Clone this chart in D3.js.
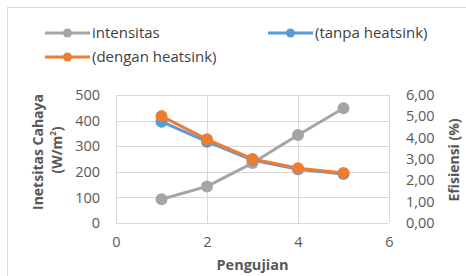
<!DOCTYPE html>
<html>
<head>
<meta charset="utf-8">
<script src="https://cdn.jsdelivr.net/npm/d3@7"></script>
<style>
  body { margin: 0; background: #fff; }
  svg { display: block; font-family: "Open Sans", sans-serif; }
</style>
</head>
<body>
<svg id="chart" width="466" height="276"></svg>
<script>
// pengujian (x) values
const pengujian = [1, 2, 3, 4, 5]
// left axis, W/m2
const intensitas = [93, 143, 234, 344, 448]
// right axis, efisiensi %
const tanpaHeatsink = [4.75, 3.81, 2.95, 2.52, 2.3]
const denganHeatsink = [5.01, 3.92, 3.0, 2.57, 2.34]

const xTicks = [0, 2, 4, 6]
const yLeftTicks = [0, 100, 200, 300, 400, 500]
const yRightTicks = [0, 1, 2, 3, 4, 5, 6]

const svg = d3.select("#chart")

// chart frame
svg.append("rect")
  .attr("x", 7.5).attr("y", 7.5)
  .attr("width", 470).attr("height", 280)
  .attr("fill", "#fff").attr("stroke", "#D9D9D9")

var plot = { left: 116, right: 389, top: 95, bottom: 223 }

var x = d3.scaleLinear().domain([0, 6]).range([plot.left, plot.right])
var yL = d3.scaleLinear().domain([0, 500]).range([plot.bottom, plot.top])
var yR = d3.scaleLinear().domain([0, 6]).range([plot.bottom, plot.top])

// gridlines
var grid = svg.append("g").attr("stroke", "#D9D9D9").attr("stroke-width", 1)
grid.selectAll("line.h").data(yLeftTicks).enter().append("line")
  .attr("x1", plot.left).attr("x2", plot.right)
  .attr("y1", d => Math.round(yL(d)) + 0.5).attr("y2", d => Math.round(yL(d)) + 0.5)
grid.selectAll("line.v").data(xTicks).enter().append("line")
  .attr("y1", plot.top).attr("y2", plot.bottom)
  .attr("x1", d => Math.round(x(d)) + 0.5).attr("x2", d => Math.round(x(d)) + 0.5)

// axes (labels only, Excel style)
var leftAxis = svg.append("g")
  .attr("transform", "translate(" + (plot.left - 16) + ",0)")
  .call(d3.axisLeft(yL).tickValues(yLeftTicks).tickSize(0).tickPadding(0))
var rightAxis = svg.append("g")
  .attr("transform", "translate(" + (plot.right + 17) + ",0)")
  .call(d3.axisRight(yR).tickValues(yRightTicks).tickSize(0).tickPadding(0)
    .tickFormat(d => d3.format(".2f")(d).replace(".", ",")))
var bottomAxis = svg.append("g")
  .attr("transform", "translate(0," + (plot.bottom + 14) + ")")
  .call(d3.axisBottom(x).tickValues(xTicks).tickSize(0).tickPadding(0)
    .tickFormat(d3.format("d")))

;[leftAxis, rightAxis, bottomAxis].forEach(a => {
  a.select(".domain").remove()
  a.selectAll("text")
    .attr("fill", "#595959")
    .style("font-size", "14.5px")
    .style("font-family", "'Open Sans', sans-serif")
})

// axis titles
svg.append("text")
  .attr("transform", "translate(43,152) rotate(-90)")
  .attr("text-anchor", "middle")
  .attr("fill", "#595959").attr("font-size", 14).attr("font-weight", "bold")
  .text("Inetsitas Cahaya")
var wm = svg.append("text")
  .attr("transform", "translate(62,150) rotate(-90)")
  .attr("text-anchor", "middle")
  .attr("fill", "#595959").attr("font-size", 14).attr("font-weight", "bold")
wm.append("tspan").text("(W/m")
wm.append("tspan").attr("font-size", 8).attr("dy", -6).text("2")
wm.append("tspan").attr("dy", 6).text(")")

svg.append("text")
  .attr("transform", "translate(459,160) rotate(-90)")
  .attr("text-anchor", "middle")
  .attr("fill", "#595959").attr("font-size", 14).attr("font-weight", "bold")
  .text("Efisiensi (%)")

svg.append("text")
  .attr("x", (plot.left + plot.right) / 2).attr("y", 270)
  .attr("text-anchor", "middle")
  .attr("fill", "#595959").attr("font-size", 14.5).attr("font-weight", "bold")
  .text("Pengujian")

// series
var series = [
  { name: "intensitas", values: intensitas, y: yL, color: "#A5A5A5" },
  { name: "(tanpa heatsink)", values: tanpaHeatsink, y: yR, color: "#5B9BD5" },
  { name: "(dengan heatsink)", values: denganHeatsink, y: yR, color: "#ED7D31" }
]

series.forEach(s => {
  var line = d3.line().x((d, i) => x(pengujian[i])).y(d => s.y(d))
  svg.append("path")
    .datum(s.values)
    .attr("fill", "none")
    .attr("stroke", s.color)
    .attr("stroke-width", 3)
    .attr("stroke-linejoin", "round")
    .attr("d", line)
  svg.append("g").selectAll("circle").data(s.values).enter().append("circle")
    .attr("cx", (d, i) => x(pengujian[i]))
    .attr("cy", d => s.y(d))
    .attr("r", 6)
    .attr("fill", s.color)
})

// legend
var legendPos = [[45, 33], [268, 33], [45, 57]]
series.forEach((s, i) => {
  var g = svg.append("g").attr("transform", "translate(" + legendPos[i][0] + "," + legendPos[i][1] + ")")
  g.append("line").attr("x1", 0).attr("x2", 45)
    .attr("stroke", s.color).attr("stroke-width", 3)
  g.append("circle").attr("cx", 22.5).attr("r", 4.5).attr("fill", s.color)
  g.append("text").attr("x", 47).attr("dy", "0.35em")
    .attr("fill", "#404040").attr("font-size", 15)
    .text(s.name)
})
</script>
</body>
</html>
